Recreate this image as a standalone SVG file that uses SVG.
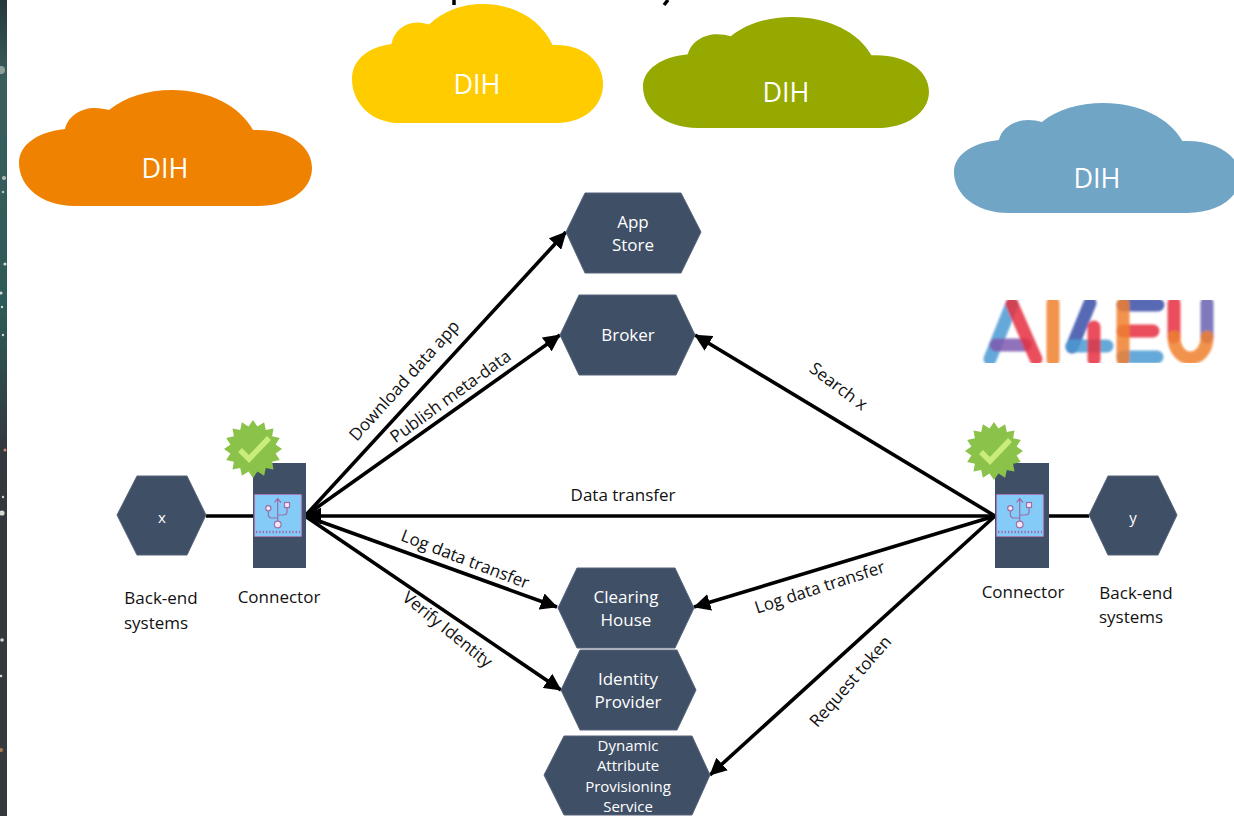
<svg xmlns="http://www.w3.org/2000/svg" width="1234" height="816" viewBox="0 0 1234 816">
<style>
text{font-family:"Open Sans","Noto Sans","DejaVu Sans",sans-serif}
.hex{fill:#3F4F66;stroke:#56647a;stroke-width:1}
.w{fill:#fff;font-size:17px;text-anchor:middle}
.s{font-size:15px}
.k{fill:#111;font-size:17px;text-anchor:middle}
.d{fill:#fff;font-size:27px;text-anchor:middle}
.c{fill:none;stroke:#000;stroke-width:3.6}
.a{marker-end:url(#arr)}
.star{fill:#d8d8d0}
.lg{fill:none;stroke-width:13;stroke-linecap:round;opacity:.85}
</style>
<defs>
<marker id="arr" viewBox="0 0 10 10" refX="9.6" refY="5" markerUnits="userSpaceOnUse" markerWidth="17" markerHeight="17" orient="auto"><path d="M0 0L10 5L0 10Z" fill="#000"/></marker>
<linearGradient id="sky" x1="0" y1="0" x2="0" y2="1"><stop offset="0" stop-color="#24383c"/><stop offset=".1" stop-color="#3a5f5f"/><stop offset=".38" stop-color="#2d5a58"/><stop offset=".55" stop-color="#33383e"/><stop offset="1" stop-color="#36393c"/></linearGradient>
<filter id="soft" x="-5%" y="-5%" width="110%" height="110%"><feGaussianBlur stdDeviation="1"/></filter>
<path id="cloud" d="M56 116C22 116 0 96 0 73C0 55 18 42 46 39C49 26 62 18 76 18C81 18 86 19 90 20C106 7 128 0 153 0C190 0 221 16 234 40L239 40C270 40 293 56 293 78C293 100 270 116 239 116Z"/>
<g id="badge"><polygon fill="#8BC34A" points="29,0 22.6,4.5 26.8,11.1 19.1,12.8 20.5,20.5 12.8,19.1 11.1,26.8 4.5,22.6 0,29 -4.5,22.6 -11.1,26.8 -12.8,19.1 -20.5,20.5 -19.1,12.8 -26.8,11.1 -22.6,4.5 -29,0 -22.6,-4.5 -26.8,-11.1 -19.1,-12.8 -20.5,-20.5 -12.8,-19.1 -11.1,-26.8 -4.5,-22.6 0,-29 4.5,-22.6 11.1,-26.8 12.8,-19.1 20.5,-20.5 19.1,-12.8 26.8,-11.1 22.6,-4.5"/><polyline points="-13,1 -4,10 16,-11" fill="none" stroke="#C9EC7A" stroke-width="5.5"/></g>
<g id="usb"><rect x=".5" y=".5" width="47" height="42" rx="1" fill="#85CBF8" stroke="#A279B4" stroke-width="1.2"/><g fill="none" stroke="#9A6FA8" stroke-width="1.2"><path d="M23.7 5V27M20.5 8.5L23.700 4.500L27 8.500M14.300 17V20Q14.300 24 18 24H23.700M33 14V18Q33 21 29 21H23.700"/><path d="M2 38H46" stroke-width="2.4" stroke-dasharray="1.4 1.9"/><g fill="#F5E6F2"><circle cx="14.300" cy="14.300" r="2.600"/><rect x="30.500" y="8.500" width="5" height="5"/><circle cx="23.700" cy="30.500" r="3.400"/></g></g></g>
</defs>
<rect width="1234" height="816" fill="#fff"/>
<g id="backdrop"><rect width="7" height="816" fill="url(#sky)"/>
<circle class="star" cx="1" cy="70" r="4" opacity=".55"/><circle class="star" cx="4" cy="178" r="2" opacity=".8"/><circle class="star" cx="3" cy="192" r="1.300" opacity=".8"/><circle class="star" cx="5" cy="264" r="1.600"/><circle class="star" cx="1" cy="293" r="1.600"/><circle class="star" cx="2" cy="307" r="1.200"/><circle class="star" cx="3" cy="335" r="1.200"/><circle cx="5" cy="450" r="1.500" fill="#c88a6a"/><circle class="star" cx="3" cy="497" r="1.200"/><circle class="star" cx="2" cy="513" r="2.600"/><circle class="star" cx="2" cy="640" r="1.800"/><circle class="star" cx="1" cy="676" r="1.300"/><circle cx="1" cy="750" r="2" fill="#a87a50"/></g>
<g id="title-remnant" stroke="#000"><path d="M454 0V5" stroke-width="3.5"/><path d="M668 0L664 5" stroke-width="3.5"/></g>

<g id="cloud-orange"><use href="#cloud" transform="translate(19 90)" fill="#EF8200"/><text class="d" x="165" y="178">DIH</text></g>
<g id="cloud-yellow"><use href="#cloud" transform="translate(352 4) scale(.857 1.026)" fill="#FFCC00"/><text class="d" x="477" y="94">DIH</text></g>
<g id="cloud-green"><use href="#cloud" transform="translate(643 17) scale(.976 .957)" fill="#95A900"/><text class="d" x="786" y="102">DIH</text></g>
<g id="cloud-blue"><use href="#cloud" transform="translate(954 103) scale(.976 .948)" fill="#70A5C6"/><text class="d" x="1097" y="188">DIH</text></g>

<g id="connectors">
<path class="c" d="M206 516H253M1049 516H1089"/>
<path class="c a" d="M305 516L566 232"/>
<path class="c a" d="M305 516L560 335"/>
<path class="c a" d="M995 516H305"/>
<path class="c a" d="M305 516L557 607"/>
<path class="c a" d="M305 516L561 690"/>
<path class="c a" d="M995 516L695 335"/>
<path class="c a" d="M995 516L694 607"/>
<path class="c a" d="M995 516L710 775"/>
<text class="k" transform="translate(405 381) rotate(-48)" y="5">Download data app</text>
<text class="k" transform="translate(451 397) rotate(-36)" y="5">Publish meta-data</text>
<text class="k" transform="translate(838 387) rotate(37)" y="5">Search x</text>
<text class="k" x="623" y="501">Data transfer</text>
<text class="k" transform="translate(465 560) rotate(21)" y="5">Log data transfer</text>
<text class="k" transform="translate(447 630) rotate(39)" y="5">Verify Identity</text>
<text class="k" transform="translate(820 588) rotate(-18)" y="5">Log data transfer</text>
<text class="k" transform="translate(851 682) rotate(-49)" y="5">Request token</text>
</g>

<g id="app-store"><polygon class="hex" points="566,232 585,193 681,193 701,232 681,273 585,273"/><text class="w" x="633" y="228">App</text><text class="w" x="633" y="251">Store</text></g>
<g id="broker"><polygon class="hex" points="560,335 579,295 676,295 695,335 676,375 579,375"/><text class="w" x="628" y="341">Broker</text></g>
<g id="clearing-house"><polygon class="hex" points="558,608 577,568 675,568 694,608 675,648 577,648"/><text class="w" x="626" y="603">Clearing</text><text class="w" x="626" y="626">House</text></g>
<g id="identity-provider"><polygon class="hex" points="561,690 580,650 677,650 696,690 677,730 580,730"/><text class="w" x="628" y="685">Identity</text><text class="w" x="628" y="708">Provider</text></g>
<g id="daps"><polygon class="hex" points="544,775 564,736 692,736 710,775 692,815 564,815"/><text class="w s" x="628" y="751">Dynamic</text><text class="w s" x="628" y="771">Attribute</text><text class="w s" x="628" y="792">Provisioning</text><text class="w s" x="628" y="812">Service</text></g>

<g id="backend-x"><polygon class="hex" points="117,515 137,476 187,476 206,515 187,555 137,555"/><text class="w s" x="162" y="523">x</text><text class="k" x="161" y="604">Back-end</text><text class="k" x="156" y="629">systems</text></g>
<g id="connector-left"><rect x="253" y="463" width="53" height="105" fill="#3F4F66"/><use href="#usb" x="254" y="494"/><use href="#badge" x="253" y="449"/><text class="k" x="279" y="603">Connector</text></g>
<g id="connector-right"><rect x="995" y="463" width="54" height="105" fill="#3F4F66"/><use href="#usb" x="996" y="494"/><use href="#badge" x="994" y="451"/><text class="k" x="1023" y="598">Connector</text></g>
<g id="backend-y"><polygon class="hex" points="1089,515 1108,476 1158,476 1177,515 1158,555 1108,555"/><text class="w s" x="1133" y="523">y</text><text class="k" x="1136" y="599">Back-end</text><text class="k" x="1131" y="623">systems</text></g>

<g id="ai4eu-logo" filter="url(#soft)">
<path class="lg" stroke="#4A9AD4" d="M990 359L1012 304"/><path class="lg" stroke="#7E5BB0" d="M996 345H1025"/><path class="lg" stroke="#E6303F" d="M1012 304L1036 359"/>
<path class="lg" stroke="#F08030" d="M1053 303V360"/>
<path class="lg" stroke="#3A4FA8" d="M1090 303L1072 347"/><path class="lg" stroke="#4A9AD4" d="M1072 346H1107"/><path class="lg" stroke="#E6303F" d="M1094 327V360"/>
<path class="lg" stroke="#3A4FA8" d="M1123 305H1158"/><path class="lg" stroke="#E6303F" d="M1123 331H1153"/><path class="lg" stroke="#4A9AD4" d="M1123 357H1157"/><path class="lg" stroke="#F08030" d="M1123 304V360"/>
<path class="lg" stroke="#E6303F" d="M1174 303V337"/><path class="lg" stroke="#6A60B0" d="M1207 303V337"/><path class="lg" stroke="#F08030" d="M1174 337C1174 350 1182 358 1190.500 358C1199 358 1207 350 1207 337"/>
</g>
</svg>
